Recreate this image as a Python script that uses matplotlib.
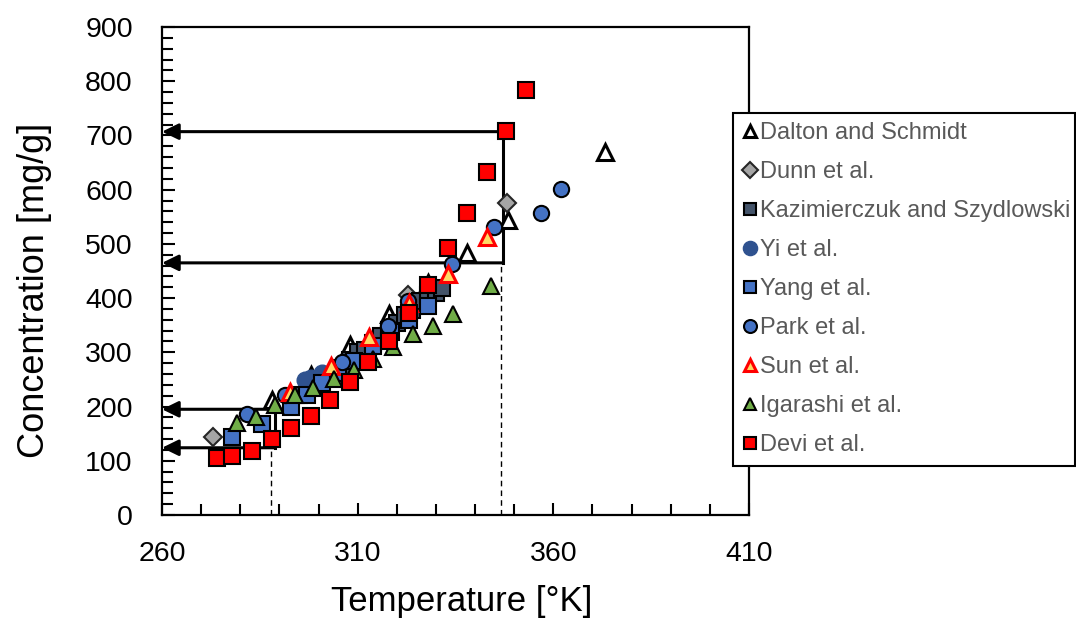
import matplotlib
matplotlib.use("Agg")
import matplotlib.pyplot as plt
from matplotlib.ticker import FixedLocator, MultipleLocator

# =========================
# 1) Data
# =========================
dalton_T = [288, 298, 308, 318, 328, 338, 348.3, 373.2]
dalton_C = [212, 258, 313, 370, 428, 484, 544, 670]

dunn_T = [273, 322.8, 348.2]
dunn_C = [143, 406, 575]

kaz_T = [295, 300, 303, 306, 308, 310, 312, 314, 316, 318, 320, 322, 324, 326, 328, 330, 331.5]
kaz_C = [222, 240, 255, 272, 285, 300, 305, 318, 330, 342, 355, 368, 378, 395, 405, 410, 418]

yi_T = [296.5, 298, 301]
yi_C = [249, 253, 262]

yang_T = [278, 285.5, 293, 297, 301, 305, 309, 314, 318.5, 323, 328]
yang_C = [143, 168, 200, 222, 243, 262, 284, 312, 338, 360, 385]

park_T = [281.7, 291.4, 306, 317.8, 322.9, 334.1, 344.8, 356.9, 362.0]
park_C = [186, 221, 283, 349, 395, 463, 531, 557, 601]

sun_T = [292.7, 303.1, 313, 323.1, 333, 343.1]
sun_C = [227, 275, 329, 391, 445, 513]

igarashi_T = [279.2, 283.9, 288.9, 294.0, 298.7, 304.0, 309.1, 314, 319.0, 324.1, 329.2, 334.3, 344.0]
igarashi_C = [170, 180, 202, 221, 234, 251, 267, 288, 309, 334, 349, 370, 423]

devi_T = [274, 278, 283, 288, 293, 298, 303, 308, 312.6, 318, 323, 328, 333, 338, 343, 348, 353]
devi_C = [105, 109, 118, 140, 160, 183, 213, 246, 282, 321, 372, 425, 492, 557, 633, 708, 784]

x_ticks = [260, 310, 360, 410]

# reference read-off lines (arrows to the y axis)
high_T = 347.1
high_dash_T = 346.6
high_levels = [707, 465]
low_T = 288.9
low_dash_T = 287.9
low_levels = [195, 124]

# =========================
# 2) Figure setup
# =========================
plt.rcParams["font.family"] = ["Liberation Sans", "DejaVu Sans"]

fig = plt.figure(figsize=(10.76, 6.25), dpi=100)
ax = fig.add_axes([162 / 1076, 1 - 515 / 625, 587 / 1076, 488 / 625])

series = [
    ("Dalton and Schmidt", dalton_T, dalton_C, "^", "white", "black", 11, 2.2),
    ("Dunn et al.", dunn_T, dunn_C, "D", "#A5A5A5", "#262626", 9, 1.5),
    ("Kazimierczuk and Szydlowski", kaz_T, kaz_C, "s", "#44546A", "black", 11, 1.5),
    ("Yi et al.", yi_T, yi_C, "o", "#2F528F", "#2F528F", 12, 1.0),
    ("Yang et al.", yang_T, yang_C, "s", "#4472C4", "black", 11, 1.5),
    ("Park et al.", park_T, park_C, "o", "#4472C4", "black", 11, 1.5),
    ("Sun et al.", sun_T, sun_C, "^", "#FFD966", "#FF0000", 11, 2.2),
    ("Igarashi et al.", igarashi_T, igarashi_C, "^", "#70AD47", "black", 11, 1.5),
    ("Devi et al.", devi_T, devi_C, "s", "#FF0000", "black", 11, 1.5),
]

handles = []
for name, xs, ys, mk, fc, ec, ms, mew in series:
    h, = ax.plot(xs, ys, linestyle="none", marker=mk, markersize=ms,
                 markerfacecolor=fc, markeredgecolor=ec, markeredgewidth=mew,
                 label=name, zorder=3)
    handles.append(h)

# =========================
# 3) Read-off lines
# =========================
arrow_kw = dict(arrowstyle="-|>,head_length=0.45,head_width=0.22", color="black",
                lw=2.2, mutation_scale=22, shrinkA=0, shrinkB=0)
for lvl in high_levels:
    ax.annotate("", xy=(260, lvl), xytext=(high_T, lvl), arrowprops=arrow_kw, zorder=2)
for lvl in low_levels:
    ax.annotate("", xy=(260, lvl), xytext=(low_T, lvl), arrowprops=arrow_kw, zorder=2)
ax.plot([high_T, high_T], high_levels, color="black", lw=2.2, zorder=2)
ax.plot([low_T, low_T], low_levels, color="black", lw=2.2, zorder=2)
ax.plot([high_dash_T, high_dash_T], [0, high_levels[1]], color="black", lw=1, ls=(0, (4, 3)), zorder=2)
ax.plot([low_dash_T, low_dash_T], [0, low_levels[1]], color="black", lw=1, ls=(0, (4, 3)), zorder=2)

# =========================
# 4) Axes
# =========================
ax.set_xlim(260, 410)
ax.set_ylim(0, 900)
ax.xaxis.set_major_locator(FixedLocator(x_ticks))
ax.xaxis.set_minor_locator(MultipleLocator(10))
ax.yaxis.set_major_locator(MultipleLocator(100))
ax.yaxis.set_minor_locator(MultipleLocator(20))
ax.tick_params(which="both", direction="in", labelsize=20.5, width=1.5)
ax.tick_params(axis="y", pad=21)
ax.tick_params(axis="x", pad=19)
ax.tick_params(which="major", length=9)
ax.tick_params(which="minor", length=8)
for sp in ax.spines.values():
    sp.set_linewidth(1.6)

ax.set_xlabel("Temperature [°K]", fontsize=25)
ax.set_ylabel("Concentration [mg/g]", fontsize=26)
ax.xaxis.set_label_coords((462 - 162) / 587, -0.143)
ax.yaxis.set_label_coords((52 - 162) / 587, 0.461)

# =========================
# 5) Legend
# =========================
leg = fig.legend(handles=handles, loc="upper left", mode="expand",
                 bbox_to_anchor=(733 / 1076, 1 - 113 / 625, 342 / 1076, 0),
                 fontsize=17.0, markerscale=0.85, handlelength=0.6,
                 handletextpad=0.15, borderpad=0.4, labelspacing=0.72,
                 borderaxespad=0, fancybox=False, framealpha=1,
                 edgecolor="black", labelcolor="#595959")
leg.get_frame().set_linewidth(1.5)

fig.savefig("out.png", dpi=100)
